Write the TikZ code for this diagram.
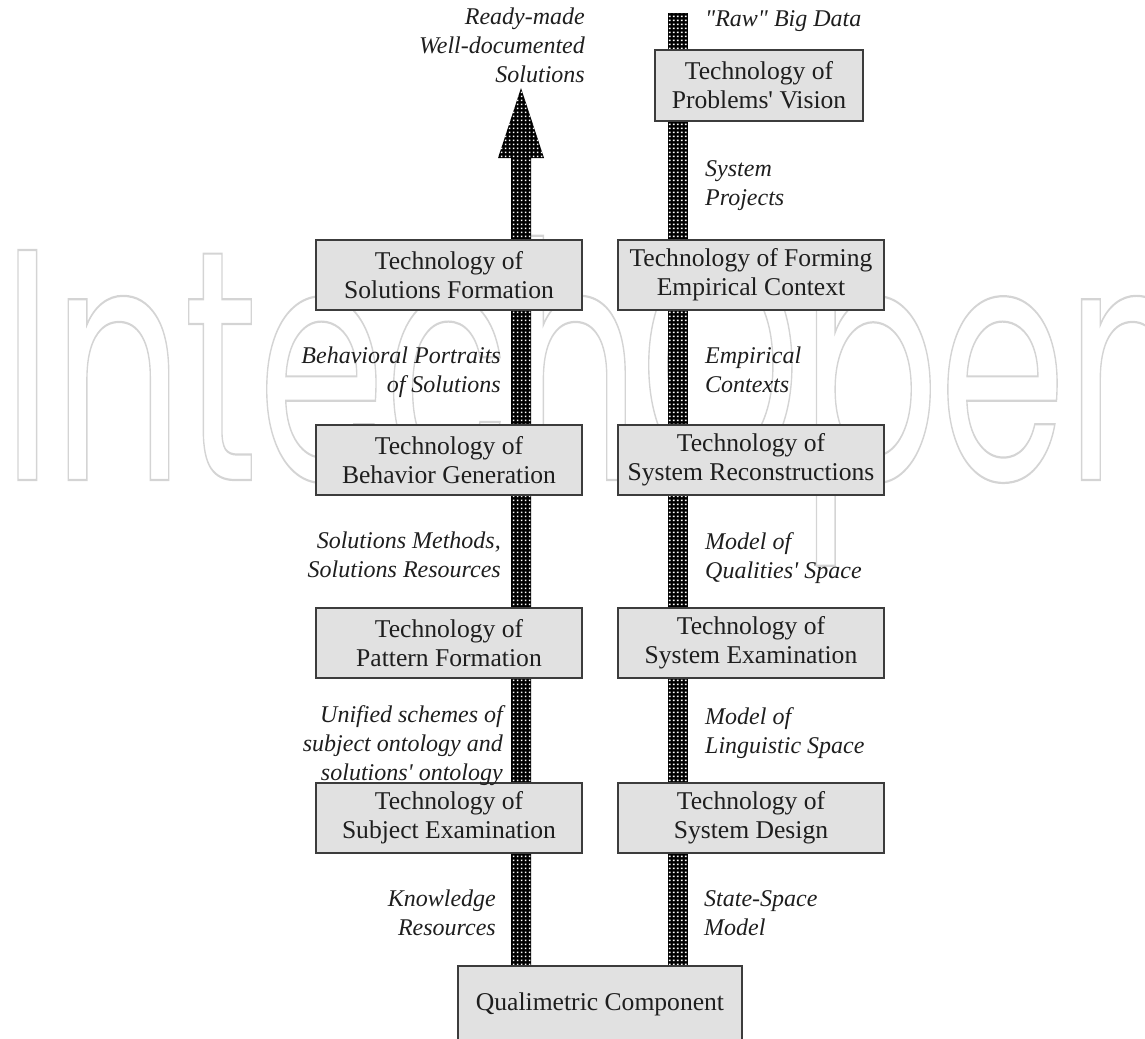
\documentclass[tikz,border=0pt]{standalone}
\usepackage{fontspec}
\setmainfont{Liberation Serif}[Ligatures=TeXOff]
\newfontfamily\wmfont{Poppins}
\usetikzlibrary{patterns.meta,calc}
\definecolor{boxfill}{HTML}{E1E1E1}
\definecolor{boxline}{HTML}{3C3C3C}
\definecolor{txt}{HTML}{1E1E1E}
\tikzdeclarepattern{name=bargrid, type=uncolored,
  bounding box={(0pt,0pt) and (4pt,4pt)}, tile size={(4pt,4pt)},
  code={\fill (1pt,1pt) rectangle (3pt,3pt);}}
\newcommand\wmword{\scalebox{0.62}[1]{\fontsize{330}{330}\wmfont
  \special{pdf:code q 1 Tr 2.2 w 0.83 0.83 0.83 RG}IntechOpen\special{pdf:code Q}}}
\begin{document}
\begin{tikzpicture}[x=1pt,y=-1pt,
  tbox/.style={draw=boxline, line width=1.3pt, fill=boxfill, align=center,
    inner sep=0pt, font=\fontsize{25.6}{29}\selectfont, text=txt},
  lbox/.style={tbox, minimum width=266pt, minimum height=70pt},
  lleft/.style={align=right, anchor=north east, inner sep=0pt,
    font=\fontsize{24}{29}\selectfont\itshape, text=txt},
  lright/.style={align=left, anchor=north west, inner sep=0pt,
    font=\fontsize{24}{29}\selectfont\itshape, text=txt},
  barblack/.style={fill=black},
  bardots/.style={pattern=bargrid, pattern color=white}]
\useasboundingbox (0,0) rectangle (1145,1038);
\clip (0,0) rectangle (1145,1038);
% watermark
\node[anchor=base west, inner sep=0pt, text=white] (wm) at (2,480) {\wmword};
% coordinates for the two flows
\coordinate (ltip) at (521,88);
\coordinate (lbase) at (521,158);
\coordinate (lbot) at (521,966);
\coordinate (rtop) at (678,13);
\coordinate (rbot) at (678,966);
% left flow with arrow head
\foreach \s in {barblack,bardots}
  \path[\s] ($(lbot)+(-10,0)$) -- ($(lbase)+(-10,0)$) -- ($(lbase)+(-23,0)$)
     -- (ltip) -- ($(lbase)+(23,0)$) -- ($(lbase)+(10,0)$) -- ($(lbot)+(10,0)$) -- cycle;
% right flow
\foreach \s in {barblack,bardots}
  \path[\s] ($(rbot)+(-10,0)$) rectangle ($(rtop)+(10,0)$);
% boxes
\node[tbox, minimum width=208pt, minimum height=71pt] (pv) at (759,85.5) {Technology of\\Problems' Vision};
\node[lbox] (sf) at (449,275) {Technology of\\Solutions Formation};
\node[lbox] (bg) at (449,460) {Technology of\\Behavior Generation};
\node[lbox] (pf) at (449,643) {Technology of\\Pattern Formation};
\node[lbox] (se) at (449,818) {Technology of\\Subject Examination};
\node[lbox] (fe) at (751,275) {Technology of Forming\\Empirical Context};
\node[lbox] (sr) at (751,460) {Technology of\\System Reconstructions};
\node[lbox] (sx) at (751,643) {Technology of\\System Examination};
\node[lbox] (sd) at (751,818) {Technology of\\System Design};
\node[tbox, minimum width=284pt, minimum height=76pt] (qc) at (600,1004) {Qualimetric Component};
% labels left
\node[lleft] (l0) at (585,8) {Ready-made\\Well-documented\\Solutions};
\node[lleft] (l1) at (501,347) {Behavioral Portraits\\of Solutions};
\node[lleft] (l2) at (501,532) {Solutions Methods,\\Solutions Resources};
\node[lleft] (l3) at (503,705) {Unified schemes of\\subject ontology and\\solutions' ontology};
\node[lleft] (l4) at (496,890) {Knowledge\\Resources};
% labels right
\node[lright] (r0) at (705,10) {"Raw" Big Data};
\node[lright] (r1) at (705,160) {System\\Projects};
\node[lright] (r2) at (705,347) {Empirical\\Contexts};
\node[lright] (r3) at (705,532) {Model of\\Qualities' Space};
\node[lright] (r4) at (705,707) {Model of\\Linguistic Space};
\node[lright] (r5) at (704,890) {State-Space\\Model};
\end{tikzpicture}
\end{document}
